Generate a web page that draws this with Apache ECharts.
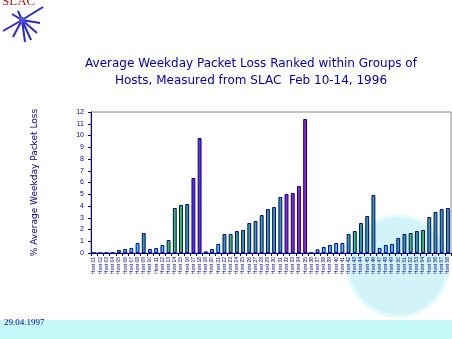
<!DOCTYPE html>
<html>
<head>
<meta charset="utf-8">
<script src="https://cdn.jsdelivr.net/npm/echarts@6/dist/echarts.min.js"></script>
<style>
html,body{margin:0;padding:0;background:#fff;}
#main{width:452px;height:339px;}
</style>
</head>
<body>
<div id="main"></div>
<script>
// Host categories (labels unreadable in the source; placeholders)
const categories = [];
for (let i = 1; i <= 58; i++) categories.push('Host ' + (i < 10 ? '0' + i : i));

// % average weekday packet loss per host
const lossValues = [
  0, 0, 0, 0, 0.26, 0.34, 0.43, 0.85, 1.70, 0.34,
  0.43, 0.68, 1.10, 3.83, 4.09, 4.17, 6.38, 9.79, 0.14, 0.34,
  0.77, 1.62, 1.62, 1.87, 1.96, 2.55, 2.72, 3.23, 3.74, 3.91,
  4.77, 5.02, 5.11, 5.70, 11.40, 0, 0.31, 0.51, 0.68, 0.85,
  0.85, 1.62, 1.87, 2.55, 3.15, 4.94, 0.43, 0.68, 0.77, 1.28,
  1.62, 1.70, 1.87, 1.96, 3.06, 3.49, 3.74, 3.83
];

// host class code per bar
const hostClass = [
  'L','L','L','L','L','L','L','L','T','L',
  'L','L','G','G','G','T','P','P','L','L',
  'L','T','G','T','T','T','T','T','T','T',
  'T','M','M','M','M','L','L','L','L','L',
  'L','T','G','T','T','T','L','L','L','T',
  'T','G','T','G','T','T','T','T'
];

const yTicks = { min: 0, max: 12, interval: 1 };

const titleLines = [
  'Average Weekday Packet Loss Ranked within Groups of',
  'Hosts, Measured from SLAC  Feb 10-14, 1996'
];
const yAxisTitle = '% Average Weekday Packet Loss';
const dateText = '29.04.1997';

const classColor = { L: '#3cc8ff', T: '#33a39c', G: '#33cc44', P: '#6a2ee6', M: '#9a22cc' };

const chart = echarts.init(document.getElementById('main'), null, { renderer: 'canvas' });

const seriesData = lossValues.map((v, i) => ({ value: v, itemStyle: { color: classColor[hostClass[i]] } }));

const navy = '#000090';
const rays = [[43,7],[3,31],[25,42],[12,14],[40,23],[37,33],[13,37],[18,11],[31,40]];
const rayGraphics = rays.map(p => ({
  type: 'line', z: 5,
  shape: { x1: 22, y1: 20, x2: p[0], y2: p[1] },
  style: { stroke: '#2a2ac8', lineWidth: 2 }
}));

const option = {
  animation: false,
  backgroundColor: '#ffffff',
  grid: { left: 91, right: 1, top: 112, bottom: 86, show: true, borderColor: '#8a8a8a', borderWidth: 1, backgroundColor: 'transparent' },
  xAxis: {
    type: 'category',
    data: categories,
    axisLine: { lineStyle: { color: navy, width: 1 } },
    axisTick: { show: true, length: 3, lineStyle: { color: navy } },
    axisLabel: { interval: 0, rotate: 90, fontSize: 5, color: navy, margin: 4, fontFamily: 'Liberation Sans' }
  },
  yAxis: {
    type: 'value',
    min: yTicks.min, max: yTicks.max, interval: yTicks.interval,
    splitLine: { show: false },
    axisLine: { show: true, lineStyle: { color: navy, width: 1 } },
    axisTick: { show: true, length: 3, lineStyle: { color: navy } },
    axisLabel: { fontSize: 7, color: navy, margin: 7, fontFamily: 'Liberation Sans' },
    name: yAxisTitle,
    nameLocation: 'middle',
    nameGap: 52,
    nameTextStyle: { fontSize: 9, color: navy, fontFamily: 'DejaVu Sans' }
  },
  series: [{
    type: 'bar',
    data: seriesData,
    barWidth: '62%',
    z: 3,
    itemStyle: { borderColor: '#000080', borderWidth: 1 }
  }],
  graphic: [
    { type: 'circle', z: 0, shape: { cx: 398, cy: 266, r: 50 }, style: { fill: '#d2f4f8', stroke: '#e4fafb', lineWidth: 3 } },
    { type: 'rect', z: 0, shape: { x: 0, y: 320, width: 452, height: 19 }, style: { fill: '#c6fafa' } },
    { type: 'text', z: 5, x: 4, y: 323, style: { text: dateText, fill: navy, font: '9px "Liberation Serif"', verticalAlign: 'middle' } },
    { type: 'text', z: 5, x: 251, y: 64, style: { text: titleLines[0], fill: '#0000a8', font: '12px "DejaVu Sans"', align: 'center', verticalAlign: 'middle' } },
    { type: 'text', z: 5, x: 251, y: 81, style: { text: titleLines[1], fill: '#0000a8', font: '12px "DejaVu Sans"', align: 'center', verticalAlign: 'middle' } },
    { type: 'text', z: 6, x: 2, y: 8, style: { text: 'SLAC', fill: '#b01818', font: '13px "Liberation Serif"', verticalAlign: 'bottom' } },
    ...rayGraphics,
    { type: 'circle', z: 6, shape: { cx: 22, cy: 20, r: 3 }, style: { fill: '#5050e0' } }
  ]
};

chart.setOption(option);
</script>
</body>
</html>
